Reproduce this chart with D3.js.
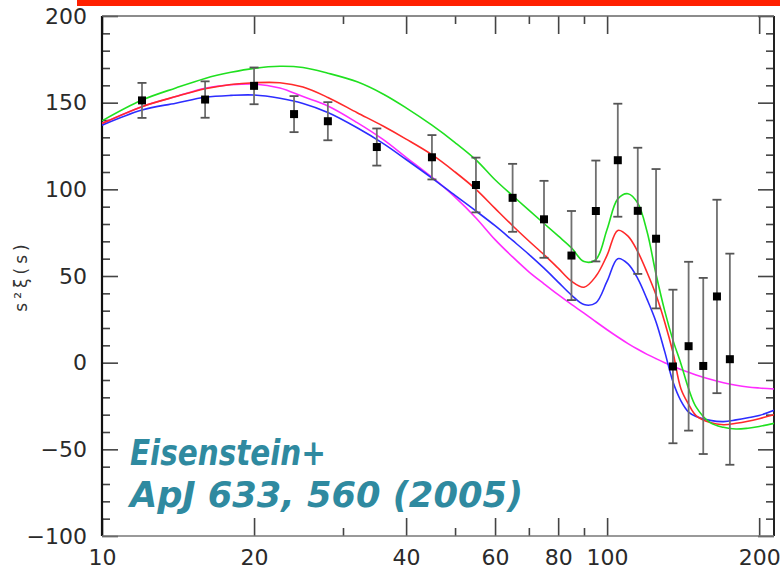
<!DOCTYPE html>
<html>
<head>
<meta charset="utf-8">
<script src="https://cdn.jsdelivr.net/npm/d3@7/dist/d3.min.js"></script>
<style>
  body { margin: 0; background: #fff; }
  #d3-container { width: 780px; height: 574px; display: block; }
</style>
</head>
<body>
<svg id="d3-container"></svg>
<script>
// measured points (s in Mpc/h, s^2 xi(s), 1-sigma error)
const sData = [12, 16, 20, 24, 28, 35, 45, 55, 65, 75, 85, 95, 105, 115, 125, 135, 145, 155, 165, 175];
const xiData = [151.3, 151.8, 159.7, 143.4, 139.3, 124.4, 118.5, 102.5, 95.1, 82.7, 61.8, 87.5, 116.8, 87.6, 71.5, -2.2, 9.5, -1.9, 38.2, 2];
const errData = [10.1, 10.5, 10.6, 10.4, 11, 10.7, 12.8, 15.8, 19.6, 22.2, 25.7, 29.1, 32.6, 36.4, 40.2, 44.3, 48.7, 50.8, 55.8, 60.9];

// model curves at these s values
const sModel = [10, 12, 14, 16, 18, 20, 22.5, 25, 28, 32, 36, 40, 45, 50, 55, 60, 65, 70, 75, 80,
                85, 90, 95, 100, 105, 110, 115, 120, 125, 130, 135, 140, 145, 150, 160, 170, 180, 190, 200, 214];
const greenModel = [139.5, 151.5, 158.5, 164, 167.5, 169.8, 171, 170.3, 167, 162, 155, 147, 137, 127, 117, 105.5, 96.3, 88, 80.3, 73.1,
                    66.3, 58.3, 59.5, 77, 94.5, 97.5, 92, 75.5, 51, 30, 13, -0.6, -15, -25.5, -34.6, -37.3, -38.3, -37.8, -36.8, -35];
const redModel = [138, 147.7, 153.5, 158, 160.5, 161.5, 161.5, 159, 153, 144.2, 136.5, 129, 120, 110, 100, 89, 79, 70.2, 62.3, 54.5,
                  47, 43.5, 49.8, 62, 76.3, 73, 64, 52, 39, 23.5, 6, -15, -24, -30.5, -34.5, -35.8, -35, -33.8, -32.3, -30];
const blueModel = [137, 145.8, 149.7, 153.1, 154.2, 154.4, 152.5, 149.5, 144.3, 135.5, 126.5, 117.2, 106.5, 96.5, 87.5, 79, 70.5, 62.5, 54.5, 46.5,
                   39, 33.5, 34.5, 47, 60, 57, 48.5, 36.5, 23.5, 6.5, -11, -22, -28.5, -31, -33.3, -34, -33, -31.8, -30.5, -27.5];
const magentaModel = [138, 147.7, 153.5, 158.3, 160.3, 160.8, 158.5, 153.5, 148.1, 138.5, 128.8, 118.5, 107, 95.5, 83.5, 71, 61, 52.4, 45.5, 39.2,
                      33.6, 28.6, 23.6, 19, 14.8, 11, 7.7, 4.8, 2.3, 0, -2, -3.9, -5.6, -7.1, -9.6, -11.6, -13, -14, -14.6, -15.2];

// axis ticks
const xLabelTicks = [10, 20, 40, 60, 80, 100, 200];
const xMinorTicks = [30, 50, 70, 90];
const yMajorTicks = [-100, -50, 0, 50, 100, 150, 200];
const yMinorTicks = d3.range(-90, 200, 10).filter(v => v % 50 !== 0);

const svg = d3.select('#d3-container');
const width = 780, height = 574;
const margin = { top: 16, bottom: 38, right: 6, left: 102 };
const innerWidth = width - margin.left - margin.right;
const innerHeight = height - margin.top - margin.bottom;

// red banner across the top
svg.append('rect')
    .attr('x', 77).attr('y', 0)
    .attr('width', width - 77).attr('height', 6)
    .attr('fill', '#ff2000');

const xScale = d3.scaleLog().domain([10, 214]).range([0, innerWidth]);
const yScale = d3.scaleLinear().domain([-100, 200]).range([innerHeight, 0]);

const g = svg.append('g')
    .attr('transform', 'translate(' + margin.left + ',' + margin.top + ')');

svg.append('defs').append('clipPath').attr('id', 'plot-clip')
    .append('rect').attr('width', innerWidth).attr('height', innerHeight);

const labelFont = 'DejaVu Sans';

// y axes (left with labels, right ticks only)
g.append('g')
    .call(d3.axisLeft(yScale).tickValues(yMajorTicks).tickSize(-16).tickPadding(15).tickFormat(d3.format('d')));
g.append('g').call(d3.axisLeft(yScale).tickValues(yMinorTicks).tickSize(-8).tickFormat(''));
g.append('g').attr('transform', `translate(${innerWidth},0)`)
    .call(d3.axisRight(yScale).tickValues(yMajorTicks).tickSize(-16).tickFormat(''));
g.append('g').attr('transform', `translate(${innerWidth},0)`)
    .call(d3.axisRight(yScale).tickValues(yMinorTicks).tickSize(-8).tickFormat(''));

// x axes (bottom with labels, top ticks only)
g.append('g').attr('transform', `translate(0,${innerHeight})`)
    .call(d3.axisBottom(xScale).tickValues(xLabelTicks).tickSize(-18).tickPadding(13).tickFormat(d3.format('d')));
g.append('g').attr('transform', `translate(0,${innerHeight})`)
    .call(d3.axisBottom(xScale).tickValues(xMinorTicks).tickSize(-8).tickFormat(''));
g.append('g')
    .call(d3.axisTop(xScale).tickValues(xLabelTicks).tickSize(-18).tickFormat(''));
g.append('g')
    .call(d3.axisTop(xScale).tickValues(xMinorTicks).tickSize(-8).tickFormat(''));

g.selectAll('.domain').remove();
g.selectAll('.tick line').attr('stroke', '#444').attr('stroke-width', 1.6);
g.selectAll('.tick text')
    .attr('font-family', labelFont)
    .attr('font-size', 22)
    .attr('fill', '#2a2a2a');

// frame
g.append('line').attr('x1', 0).attr('x2', 0).attr('y1', 0).attr('y2', innerHeight)
    .attr('stroke', '#111').attr('stroke-width', 2.2);
g.append('line').attr('x1', innerWidth).attr('x2', innerWidth).attr('y1', 0).attr('y2', innerHeight)
    .attr('stroke', '#222').attr('stroke-width', 2);
g.append('line').attr('x1', 0).attr('x2', innerWidth).attr('y1', 0).attr('y2', 0)
    .attr('stroke', '#666').attr('stroke-width', 1.6);
g.append('line').attr('x1', 0).attr('x2', innerWidth).attr('y1', innerHeight).attr('y2', innerHeight)
    .attr('stroke', '#777').attr('stroke-width', 1.6);

// model curves
const models = [
    { vals: magentaModel, color: '#ff2cff' },
    { vals: blueModel, color: '#2d2dff' },
    { vals: redModel, color: '#ff2a2a' },
    { vals: greenModel, color: '#20e020' }
];
const line = d3.line()
    .x(d => xScale(d[0]))
    .y(d => yScale(d[1]))
    .curve(d3.curveCatmullRom.alpha(0.5));

const curves = g.append('g').attr('clip-path', 'url(#plot-clip)');
models.forEach(m => {
    curves.append('path')
        .datum(sModel.map((s, i) => [s, m.vals[i]]))
        .attr('fill', 'none')
        .attr('stroke', m.color)
        .attr('stroke-width', 1.6)
        .attr('d', line);
});

// data points with error bars
const points = sData.map((s, i) => ({ s: s, xi: xiData[i], err: errData[i] }));
const pt = g.selectAll('.pt').data(points).enter().append('g').attr('class', 'pt');
pt.append('line')
    .attr('x1', d => xScale(d.s)).attr('x2', d => xScale(d.s))
    .attr('y1', d => yScale(d.xi + d.err)).attr('y2', d => yScale(d.xi - d.err))
    .attr('stroke', '#707070').attr('stroke-width', 1.8);
pt.append('line')
    .attr('x1', d => xScale(d.s) - 4.5).attr('x2', d => xScale(d.s) + 4.5)
    .attr('y1', d => yScale(d.xi + d.err)).attr('y2', d => yScale(d.xi + d.err))
    .attr('stroke', '#555').attr('stroke-width', 1.8);
pt.append('line')
    .attr('x1', d => xScale(d.s) - 4.5).attr('x2', d => xScale(d.s) + 4.5)
    .attr('y1', d => yScale(d.xi - d.err)).attr('y2', d => yScale(d.xi - d.err))
    .attr('stroke', '#555').attr('stroke-width', 1.8);
pt.append('rect')
    .attr('x', d => xScale(d.s) - 4).attr('y', d => yScale(d.xi) - 4)
    .attr('width', 8).attr('height', 8)
    .attr('fill', '#000');

// y axis title
svg.append('text')
    .attr('transform', 'translate(27,276) rotate(-90)')
    .attr('text-anchor', 'middle')
    .attr('font-family', labelFont)
    .attr('font-size', 17)
    .attr('letter-spacing', 4)
    .attr('fill', '#333')
    .text('s²ξ(s)');

// citation
const cite = svg.append('g')
    .attr('font-family', 'DejaVu Sans')
    .attr('font-weight', 'bold')
    .attr('font-style', 'italic')
    .attr('font-size', 36)
    .attr('fill', '#2f8aa0');
cite.append('text').attr('x', 130).attr('y', 465)
    .attr('textLength', 196).attr('lengthAdjust', 'spacingAndGlyphs')
    .text('Eisenstein+');
cite.append('text').attr('x', 130).attr('y', 507)
    .attr('textLength', 393).attr('lengthAdjust', 'spacingAndGlyphs')
    .text('ApJ 633, 560 (2005)');
</script>
</body>
</html>
